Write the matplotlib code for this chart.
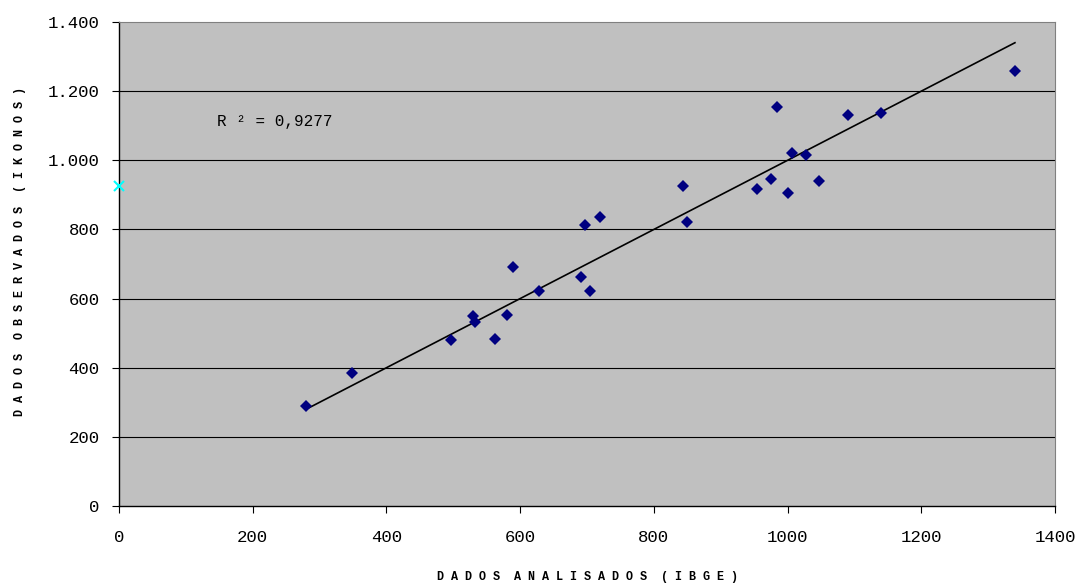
import numpy as np
import matplotlib.pyplot as plt
from matplotlib.ticker import FuncFormatter

# dados
ibge = [280, 349, 496, 530, 533, 563, 581, 589, 628, 691, 705, 697, 719,
        843, 849, 954, 975, 984, 1000, 1006, 1028, 1047, 1091, 1139, 1340]
ikonos = [290, 386, 480, 550, 533, 484, 553, 692, 623, 663, 623, 813, 837,
          926, 822, 917, 947, 1155, 906, 1022, 1015, 941, 1131, 1136, 1259]
extra_x = [0]
extra_y = [926]
# linha de tendencia (y = a*x + b)
trend_a = 1.0
trend_b = 0.0
r2_text = "R ² = 0,9277"
x_ticks = [0, 200, 400, 600, 800, 1000, 1200, 1400]
y_ticks = [0, 200, 400, 600, 800, 1000, 1200, 1400]


def spaced(s):
    """insere espacos entre as letras"""
    return " ".join(s)


def y_fmt(v, pos):
    """formato com ponto de milhar"""
    return "{:,.0f}".format(v).replace(",", ".")


mono = "Liberation Mono"

fig = plt.figure(figsize=(10.81, 5.86), dpi=100)
ax = fig.add_axes([0.1101, 0.1365, 0.976 - 0.1101, 0.9625 - 0.1365])
ax.set_facecolor("#C0C0C0")

# linhas de grade horizontais
for v in y_ticks[1:-1]:
    ax.axhline(v, color="black", lw=0.8, zorder=1)

# pontos
ax.plot(ibge, ikonos, linestyle="none", marker="D", ms=5.8,
        color="#000080", mew=0, zorder=3)
ax.plot(extra_x, extra_y, linestyle="none", marker="x", ms=7,
        color="#00FFFF", mew=1.5, zorder=4, clip_on=False)

# linha de tendencia
xl = np.array([min(ibge), max(ibge)])
ax.plot(xl, trend_a * xl + trend_b, color="black", lw=1.2, zorder=2)

ax.text(146, 1111, r2_text, fontsize=11.5, family=mono,
        va="center", ha="left")

ax.set_xlim(0, 1400)
ax.set_ylim(0, 1400)
ax.set_xticks(x_ticks)
ax.set_yticks(y_ticks)
ax.yaxis.set_major_formatter(FuncFormatter(y_fmt))
ax.tick_params(direction="out", length=5, width=0.8, color="black")
ax.tick_params(axis="y", pad=9)
ax.tick_params(axis="x", pad=12)
for lab in ax.get_xticklabels() + ax.get_yticklabels():
    lab.set_family(mono)
    lab.set_fontsize(12.5)

for s in ["top", "right"]:
    ax.spines[s].set_color("#808080")
for s in ["left", "bottom"]:
    ax.spines[s].set_color("black")
    ax.spines[s].set_linewidth(1.0)

ax.set_xlabel(spaced("DADOS") + "  " + spaced("ANALISADOS") + "  " + spaced("(IBGE)"),
              family=mono, fontweight="bold", fontsize=8.5, va="center")
ax.set_ylabel(spaced("DADOS") + "  " + spaced("OBSERVADOS") + "  " + spaced("(IKONOS)"),
              family=mono, fontweight="bold", fontsize=8.5, va="center")
ax.xaxis.set_label_coords(0.5, -0.1467)
ax.yaxis.set_label_coords(-0.106, 0.526)

fig.savefig("out.png", dpi=100)
